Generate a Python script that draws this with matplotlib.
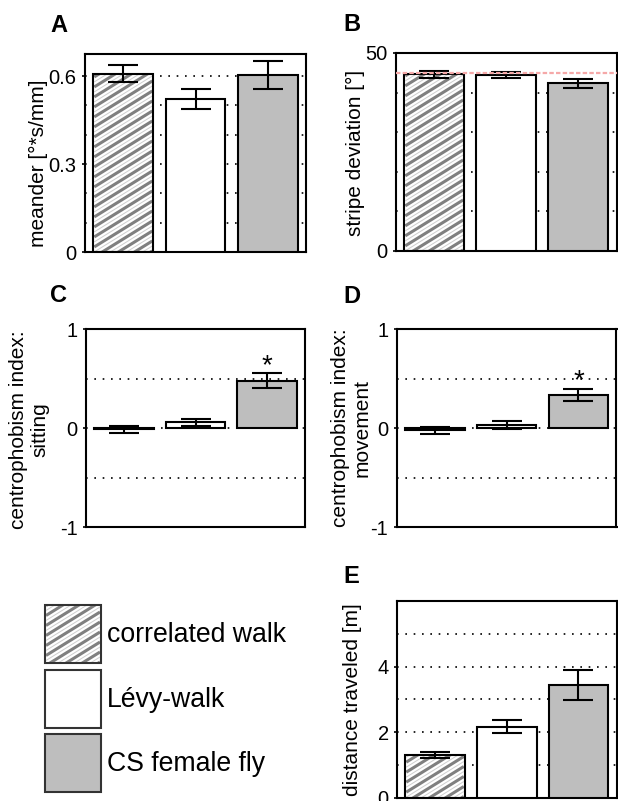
import numpy as np
import matplotlib
matplotlib.use('Agg')
import matplotlib.pyplot as plt
from matplotlib.patches import Patch
from matplotlib.lines import Line2D
from matplotlib.transforms import Bbox, TransformedBbox, IdentityTransform

plt.rcParams['font.family'] = ['Liberation Sans', 'DejaVu Sans']

groups = ['correlated walk', 'Lévy-walk', 'CS female fly']
fills = ['none', 'white', '#bebebe']

meander = [0.608, 0.522, 0.603]
meander_err = [0.029, 0.035, 0.049]

stripe = [44.6, 44.5, 42.3]
stripe_err = [0.9, 0.8, 1.1]
stripe_ref = 45

sitting = [-0.015, 0.057, 0.478]
sitting_err = [0.035, 0.037, 0.078]

movement = [-0.025, 0.03, 0.337]
movement_err = [0.038, 0.038, 0.06]

distance = [1.30, 2.16, 3.44]
distance_err = [0.10, 0.20, 0.45]

W, H = 618, 801
fig = plt.figure(figsize=(W / 100, H / 100), dpi=100)


def px_axes(left, top, right, bottom):
    return fig.add_axes([left / W, 1 - bottom / H, (right - left) / W, (bottom - top) / H])


def stripes(owner, bb, z):
    # hand-drawn looking diagonal texture, in pixels, clipped to the box
    x0, y0, x1, y1 = bb.x0 + 1, bb.y0 + 1, bb.x1 - 1, bb.y1 - 1
    if y1 <= y0:
        return
    clip = TransformedBbox(Bbox([[x0, y0], [x1, y1]]), IdentityTransform())
    s = 0.62
    span = s * (x1 - x0)
    for c in np.arange(-span, y1 - y0 + 10, 10):
        for off, col, lw in [(0, '#808080', 2.2), (5, '#cfcfcf', 0.7)]:
            ln = Line2D([x0, x1], [y0 + c + off, y0 + c + off + span], color=col, linewidth=lw,
                        transform=IdentityTransform(), zorder=z, solid_capstyle='butt')
            owner.add_artist(ln)
            ln.set_clip_path(None)
            ln.set_clip_box(clip)
            ln.set_clip_on(True)


def panel(ax, vals, errs, ylim, ticks, labels, grid):
    x = range(len(vals))
    ax.set_xlim(-0.53, 2.53)
    ax.set_ylim(*ylim)
    under = ax.bar(x, vals, 0.83, color='white', linewidth=0, zorder=2)
    ax.bar(x, vals, 0.83, color=fills, edgecolor='black', linewidth=1.5, zorder=3)
    stripes(ax, under[0].get_window_extent(), 2.5)
    ax.errorbar(x, vals, yerr=errs, fmt='none', ecolor='black', elinewidth=1.5,
                capsize=10.5, capthick=1.5, zorder=4)
    ax.set_xticks([])
    ax.set_yticks(ticks)
    ax.set_yticklabels(labels)
    ax.set_yticks(grid, minor=True)
    ax.yaxis.remove_overlapping_locs = False
    ax.grid(True, which='minor', axis='y', color='black', linestyle=(0, (1, 4)), linewidth=1.2)
    ax.set_axisbelow(True)
    ax.tick_params(axis='y', which='major', labelsize=14.5, length=2.5, width=1.2, pad=3.5)
    ax.tick_params(axis='y', which='minor', length=0)
    for s in ax.spines.values():
        s.set_linewidth(1.5)


def ylab(x, y, txt):
    fig.text(x / W, 1 - y / H, txt, rotation=90, ha='center', va='center',
             fontsize=15, linespacing=1.15, multialignment='center')


def letter(x, y, txt):
    fig.text(x / W, 1 - y / H, txt, ha='left', va='baseline', fontsize=17, fontweight='bold')


# A
axA = px_axes(85, 54, 306, 252)
panel(axA, meander, meander_err, (0, 0.675), [0, 0.3, 0.6], ['0', '0.3', '0.6'],
      [0.1, 0.2, 0.3, 0.4, 0.5, 0.6])
ylab(38, 163, 'meander [°*s/mm]')
letter(50, 32, 'A')

# B
axB = px_axes(396, 53, 616.5, 251)
panel(axB, stripe, stripe_err, (0, 50), [0, 50], ['0', '50'], [10, 20, 30, 40])
axB.axhline(stripe_ref, color='#f5a8a8', linewidth=1.6, linestyle=(0, (2, 1)), zorder=5)
ylab(355, 153, 'stripe deviation [°]')
letter(343, 31, 'B')

# C
axC = px_axes(86, 329, 305, 527)
panel(axC, sitting, sitting_err, (-1, 1), [-1, 0, 1], ['-1', '0', '1'], [-1, -0.5, 0, 0.5, 1])
axC.text(2, sitting[2] + sitting_err[2], '*', ha='center', va='baseline', fontsize=20)
ylab(29, 430, 'centrophobism index:\nsitting')
letter(50, 302, 'C')

# D
axD = px_axes(396.7, 329, 616.5, 527)
panel(axD, movement, movement_err, (-1, 1), [-1, 0, 1], ['-1', '0', '1'], [-1, -0.5, 0, 0.5, 1])
axD.text(2, movement[2] + movement_err[2], '*', ha='center', va='baseline', fontsize=20)
ylab(351, 428, 'centrophobism index:\nmovement')
letter(343, 303, 'D')

# E
axE = px_axes(397, 601, 616.5, 797.5)
panel(axE, distance, distance_err, (0, 6), [0, 2, 4], ['0', '2', '4'], [1, 2, 3, 4, 5])
ylab(353, 700, 'distance traveled [m]')
letter(343, 583, 'E')

# legend
handles = [Patch(facecolor=c if c != 'none' else 'white', edgecolor='#333333', linewidth=1.5)
           for c in fills]
leg = fig.legend(handles, groups, loc='upper left', bbox_to_anchor=(45 / W, 1 - 605 / H),
                 frameon=False, fontsize=19.2, borderpad=0, borderaxespad=0,
                 handlelength=2.1, handleheight=2.97, labelspacing=0.25, handletextpad=0.22)
fig.canvas.draw()
stripes(fig, leg.legend_handles[0].get_window_extent(), 6)

fig.savefig('out.png', dpi=100)
